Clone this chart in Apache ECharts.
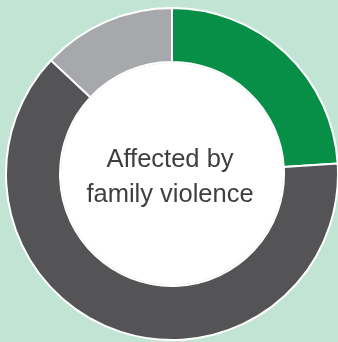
<!DOCTYPE html>
<html>
<head>
<meta charset="utf-8">
<script src="https://cdn.jsdelivr.net/npm/echarts@6/dist/echarts.min.js"></script>
<style>
html,body{margin:0;padding:0;background:#c2e4d4;}
#chart{width:338px;height:342px;}
</style>
</head>
<body>
<div id="chart"></div>
<script>
var categories = ['Affected by family violence', 'Not affected', 'Unknown'];
var values = [24, 63, 13];
var colors = ['#078f48', '#545456', '#a7a8ab'];
var centerText = 'Affected by\nfamily violence';

var chart = echarts.init(document.getElementById('chart'), null, {renderer: 'canvas'});
chart.setOption({
  backgroundColor: '#c2e4d4',
  animation: false,
  series: [{
    type: 'pie',
    center: [172, 174],
    radius: [112, 166],
    startAngle: 90,
    clockwise: true,
    label: {show: false},
    labelLine: {show: false},
    silent: true,
    itemStyle: {borderColor: '#ffffff', borderWidth: 2},
    data: categories.map(function (c, i) {
      return {name: c, value: values[i], itemStyle: {color: colors[i]}};
    })
  }, {
    type: 'pie',
    center: [172, 174],
    radius: [0, 111],
    silent: true,
    label: {show: false},
    labelLine: {show: false},
    data: [{value: 1, itemStyle: {color: '#ffffff'}}]
  }],
  graphic: [{
    type: 'text',
    z: 100,
    x: 170,
    y: 142,
    style: {
      text: centerText,
      fontFamily: 'Liberation Sans, Arial, sans-serif',
      fontSize: 25.5,
      lineHeight: 35,
      fill: '#3f3f40',
      align: 'center',
      textAlign: 'center'
    }
  }]
});
</script>
</body>
</html>
